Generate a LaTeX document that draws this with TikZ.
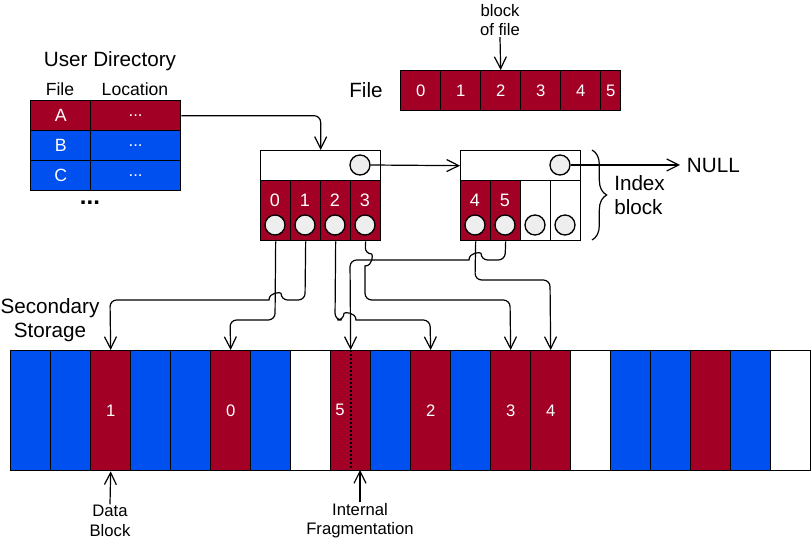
\documentclass[tikz,border=0pt]{standalone}
\usepackage{fontspec}
\setmainfont{Liberation Sans}
\usepackage{tikz}
\usetikzlibrary{arrows.meta,decorations.pathreplacing}

\begin{document}
\begin{tikzpicture}[x=0.75pt,y=0.75pt,yscale=-1,xscale=1,
  redcell/.style={draw, line width=1pt, fill={rgb, 255:red, 162; green, 0; blue, 37 }, text=white, inner sep=0pt, anchor=north west},
  bluecell/.style={draw, line width=1pt, fill={rgb, 255:red, 0; green, 80; blue, 239 }, text=white, inner sep=0pt, anchor=north west},
  whitecell/.style={draw, line width=1pt, fill=white, inner sep=0pt, anchor=north west},
  blk/.style={minimum width=30pt, minimum height=90pt, font=\fontsize{12.5}{14}\selectfont},
  dirkey/.style={minimum width=45pt, minimum height=22.5pt, font=\fontsize{13.3}{15}\selectfont},
  dirloc/.style={minimum width=67.5pt, minimum height=22.5pt, font=\fontsize{12.5}{14}\selectfont},
  idxcell/.style={minimum width=22.5pt, minimum height=45pt},
  idxhead/.style={minimum width=90pt, minimum height=22.5pt},
  fcell/.style={minimum width=30pt, minimum height=30pt, font=\fontsize{12.5}{14}\selectfont},
  ptr/.style={circle, draw, line width=1pt, fill={rgb, 255:red, 238; green, 238; blue, 238 }, minimum size=15pt, inner sep=0pt},
  numtext/.style={text=white, inner sep=0.75pt, font=\fontsize{13.5}{15}\selectfont},
  bigtext/.style={inner sep=0.75pt, align=center, font=\fontsize{15.5}{18.5}\selectfont},
  midtext/.style={inner sep=0.75pt, font=\fontsize{13.2}{15}\selectfont},
  notetext/.style={inner sep=0.75pt, align=center, font=\fontsize{12.5}{14.5}\selectfont},
  conn/.style={line width=0.9pt, rounded corners=5pt, -{Straight Barb[length=9pt,width=9pt]}}
]
\useasboundingbox (0,0) rectangle (811,541);

% User Directory
\draw (110,61) node [bigtext] (udir) {User Directory};
\draw (60,89) node [midtext] (hfile) {File};
\draw (135,89) node [midtext] (hloc) {Location};
\node [redcell, dirkey] (dA1) at (30,100) {A};
\node [redcell, dirloc] (dA2) at (90,100) {...};
\node [bluecell, dirkey] (dB1) at (30,130) {B};
\node [bluecell, dirloc] (dB2) at (90,130) {...};
\node [bluecell, dirkey] (dC1) at (30,160) {C};
\node [bluecell, dirloc] (dC2) at (90,160) {...};
\draw (90,203) node [bigtext, font=\fontsize{18}{20}\selectfont] (more) {\textbf{...}};

% File
\draw (366,90) node [bigtext] (flbl) {File};
\node [redcell, fcell] (f0) at (400,70) {0};
\node [redcell, fcell] (f1) at (440,70) {1};
\node [redcell, fcell] (f2) at (480,70) {2};
\node [redcell, fcell] (f3) at (520,70) {3};
\node [redcell, fcell] (f4) at (560,70) {4};
\node [redcell, fcell, minimum width=15pt] (f5) at (600,70) {5};
\draw (500,20) node [notetext] (bof) {block\\of file};
\draw [conn] (bof.south) -- (f2.north);

% Index block 1
\node [whitecell, idxhead] (ih1) at (260,150) {};
\node [ptr] (hc1) at (360,165) {};
\node [redcell, idxcell] (ia0) at (260,180) {};
\node [redcell, idxcell] (ia1) at (290,180) {};
\node [redcell, idxcell] (ia2) at (320,180) {};
\node [redcell, idxcell] (ia3) at (350,180) {};
\draw (275,200) node [numtext] (na0) {0};
\draw (305,200) node [numtext] (na1) {1};
\draw (335,200) node [numtext] (na2) {2};
\draw (365,200) node [numtext] (na3) {3};
\node [ptr] (ca0) at (275,225) {};
\node [ptr] (ca1) at (305,225) {};
\node [ptr] (ca2) at (335,225) {};
\node [ptr] (ca3) at (365,225) {};

% Index block 2
\node [whitecell, idxhead] (ih2) at (460,150) {};
\node [ptr] (hc2) at (560,165) {};
\node [redcell, idxcell] (ib0) at (460,180) {};
\node [redcell, idxcell] (ib1) at (490,180) {};
\node [whitecell, idxcell] (ib2) at (520,180) {};
\node [whitecell, idxcell] (ib3) at (550,180) {};
\draw (475,200) node [numtext] (nb0) {4};
\draw (505,200) node [numtext] (nb1) {5};
\node [ptr] (cb0) at (475,225) {};
\node [ptr] (cb1) at (505,225) {};
\node [ptr] (cb2) at (535,225) {};
\node [ptr] (cb3) at (565,225) {};

\draw (680,165) node [bigtext, anchor=west, inner sep=5pt] (null) {NULL};
\draw [decorate, decoration={brace, amplitude=11pt}, line width=0.9pt] (592,150) -- (592,240);
\draw (613,195) node [bigtext, anchor=west, align=left] (ilbl) {Index\\block};

% Secondary Storage
\draw (50,320) node [bigtext] (sslbl) {Secondary\\Storage};
\node [bluecell, blk] (s0) at (10,350) {};
\node [bluecell, blk] (s1) at (50,350) {};
\node [redcell, blk] (s2) at (90,350) {1};
\node [bluecell, blk] (s3) at (130,350) {};
\node [bluecell, blk] (s4) at (170,350) {};
\node [redcell, blk] (s5) at (210,350) {0};
\node [bluecell, blk] (s6) at (250,350) {};
\node [whitecell, blk] (s7) at (290,350) {};
\node [redcell, blk] (s8) at (330,350) {};
\node [bluecell, blk] (s9) at (370,350) {};
\node [redcell, blk] (s10) at (410,350) {2};
\node [bluecell, blk] (s11) at (450,350) {};
\node [redcell, blk] (s12) at (490,350) {3};
\node [redcell, blk] (s13) at (530,350) {4};
\node [whitecell, blk] (s14) at (570,350) {};
\node [bluecell, blk] (s15) at (610,350) {};
\node [bluecell, blk] (s16) at (650,350) {};
\node [redcell, blk] (s17) at (690,350) {};
\node [bluecell, blk] (s18) at (730,350) {};
\node [whitecell, blk] (s19) at (770,350) {};
\draw (340,410) node [numtext, font=\fontsize{12.5}{14}\selectfont] (n5) {5};
\draw [dash pattern={on 1.5pt off 1.5pt}][line width=1.5] (s8.north) -- (s8.south);

\draw (110,521) node [notetext] (dblk) {Data\\Block};
\draw [conn] (dblk.north) -- (s2.south);
\draw (360,521) node [notetext] (ifrag) {Internal\\Fragmentation};
\draw [conn] (ifrag.north) -- (360,470);

% Pointers
\draw [conn] (dA2.east) -| (ih1.north);
\draw [conn] (hc1.east) -- (ih2.west);
\draw [conn] (hc2.east) -- (null.west);
\draw [conn] (ia0.south) -- (275,320) -- (230,320) -- (s5.north);
\draw [conn] (ia1.south) -- (305,300) -- (281,300) [sharp corners] .. controls (281,292) and (269,292) .. (269,300) [rounded corners=5pt] -- (110,300) -- (s2.north);
\draw [conn] (ia2.south) -- (335,320) -- (344,320) [sharp corners] .. controls (344,312) and (356,312) .. (356,320) [rounded corners=5pt] -- (430,320) -- (s10.north);
\draw [conn] (ia3.south) -- (365,254) [sharp corners] .. controls (373,254) and (373,266) .. (365,266) [rounded corners=5pt] -- (365,300) -- (510,300) -- (s12.north);
\draw [conn] (ib0.south) -- (475,280) -- (550,280) -- (s13.north);
\draw [conn] (ib1.south) -- (505,260) -- (481,260) [sharp corners] .. controls (481,252) and (469,252) .. (469,260) [rounded corners=5pt] -- (350,260) -- (s8.north);

\end{tikzpicture}
\end{document}
